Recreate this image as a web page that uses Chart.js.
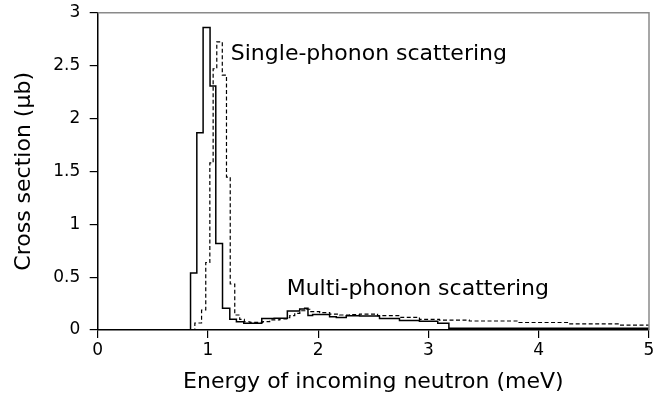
<!DOCTYPE html>
<html>
<head>
<meta charset="utf-8">
<script src="https://cdn.jsdelivr.net/npm/chart.js@4"></script>
<style>
html,body{margin:0;padding:0;background:#fff;}
#wrap{width:670px;height:396px;}
</style>
</head>
<body>
<div id="wrap"><canvas id="c" width="670" height="396"></canvas></div>
<script>
// Data (meV, microbarn): histogram bin left edges and values
const solidEdges = [0.78, 0.842, 0.899, 0.956, 1.019, 1.071, 1.132, 1.198, 1.258, 1.325, 1.488, 1.60, 1.72, 1.832, 1.877, 1.907, 1.949, 2.103, 2.164, 2.254, 2.375, 2.556, 2.737, 2.918, 3.084, 3.185, 5.0];
const solidValues = [0, 0.54, 1.865, 2.86, 2.306, 0.818, 0.205, 0.101, 0.078, 0.063, 0.109, 0.112, 0.18, 0.198, 0.205, 0.137, 0.146, 0.125, 0.118, 0.135, 0.132, 0.109, 0.09, 0.082, 0.063, 0.016, 0.016];
const dashedEdges = [0.80, 0.881, 0.942, 0.98, 1.017, 1.047, 1.080, 1.13, 1.168, 1.202, 1.243, 1.288, 1.33, 1.38, 1.497, 1.56, 1.651, 1.715, 1.742, 1.787, 1.833, 1.878, 1.923, 2.013, 2.104, 2.194, 2.285, 2.375, 2.538, 2.737, 2.918, 3.099, 3.37, 3.82, 4.27, 4.72, 5.0];
const dashedValues = [0, 0.066, 0.189, 0.638, 1.58, 2.47, 2.725, 2.41, 1.446, 0.435, 0.142, 0.1, 0.078, 0.073, 0.079, 0.095, 0.104, 0.116, 0.135, 0.158, 0.182, 0.196, 0.173, 0.164, 0.151, 0.142, 0.145, 0.151, 0.135, 0.12, 0.1, 0.094, 0.085, 0.071, 0.058, 0.047, 0.04];
const xTicks = [0, 1, 2, 3, 4, 5];
const yTicks = [0, 0.5, 1, 1.5, 2, 2.5, 3];
const annotations = [
  {text: 'Single-phonon scattering', x: 1.207, y: 2.552},
  {text: 'Multi-phonon scattering', x: 1.714, y: 0.331}
];
const xTitle = 'Energy of incoming neutron (meV)';
const yTitle = 'Cross section (\u03bcb)';

const FONT = '"DejaVu Sans", sans-serif';
const toPts = (xs, ys) => xs.map((x, i) => ({x: x, y: ys[i]}));

const framePlugin = {
  id: 'frame',
  afterDatasetsDraw(chart) {
    const {ctx, chartArea: a, scales} = chart;
    ctx.save();
    ctx.strokeStyle = '#8a8a8a';
    ctx.lineWidth = 1.5;
    ctx.beginPath();
    ctx.moveTo(a.left, a.top);
    ctx.lineTo(a.right, a.top);
    ctx.lineTo(a.right, a.bottom);
    ctx.stroke();
    ctx.fillStyle = '#000';
    ctx.font = '22px ' + FONT;
    ctx.textBaseline = 'alphabetic';
    ctx.textAlign = 'left';
    annotations.forEach(an => {
      ctx.fillText(an.text, scales.x.getPixelForValue(an.x), scales.y.getPixelForValue(an.y));
    });
    ctx.restore();
  }
};

new Chart(document.getElementById('c'), {
  type: 'line',
  data: {
    datasets: [
      {
        data: toPts(dashedEdges, dashedValues),
        stepped: true,
        borderColor: '#000',
        borderWidth: 1.2,
        borderDash: [4, 2.5],
        pointRadius: 0,
        fill: false
      },
      {
        data: toPts(solidEdges, solidValues),
        stepped: true,
        borderColor: '#000',
        borderWidth: 1.5,
        pointRadius: 0,
        fill: false
      }
    ]
  },
  options: {
    responsive: false,
    animation: false,
    events: [],
    layout: {padding: {left: 0, right: 21, top: 12.7, bottom: 0}},
    plugins: {legend: {display: false}, tooltip: {enabled: false}},
    scales: {
      x: {
        type: 'linear',
        min: 0, max: 5,
        afterFit(s) { s.height = 66; s.paddingLeft = 0; s.paddingRight = 0; },
        afterBuildTicks(s) { s.ticks = xTicks.map(v => ({value: v})); },
        ticks: {color: '#000', font: {family: FONT, size: 17}, padding: 2, maxRotation: 0, callback: v => String(v)},
        grid: {display: true, drawOnChartArea: false, drawTicks: true, tickLength: 8, color: '#000', lineWidth: 1.2},
        border: {display: true, color: '#000', width: 1.5},
        title: {display: true, text: xTitle, color: '#000', font: {family: FONT, size: 22}, padding: {top: 0, bottom: 1}}
      },
      y: {
        type: 'linear',
        min: 0, max: 3,
        afterFit(s) { s.width = 97.7; s.paddingTop = 0; s.paddingBottom = 0; },
        afterBuildTicks(s) { s.ticks = yTicks.map(v => ({value: v})); },
        ticks: {color: '#000', font: {family: FONT, size: 17}, padding: 9.5, callback: v => String(v)},
        grid: {display: true, drawOnChartArea: false, drawTicks: true, tickLength: 8, color: '#000', lineWidth: 1.2},
        border: {display: true, color: '#000', width: 1.5},
        title: {display: true, text: yTitle, color: '#000', font: {family: FONT, size: 22}, padding: {top: 11, bottom: 0}}
      }
    }
  },
  plugins: [framePlugin]
});
</script>
</body>
</html>
